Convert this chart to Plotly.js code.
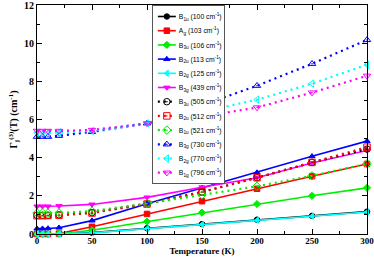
<!DOCTYPE html>
<html><head><meta charset="utf-8">
<script src="https://cdn.plot.ly/plotly-3.0.1.min.js"></script>
<style>html,body{margin:0;padding:0;background:#fff;}</style>
</head><body><div id="chart" style="width:374px;height:257px;"></div>
<script>
const temperature = [0, 5, 10, 20, 50, 100, 150, 200, 250, 300];
const modeNames = [
  'B<sub>1u</sub> (100 cm<sup>-1</sup>)',
  'A<sub>g</sub> (103 cm<sup>-1</sup>)',
  'B<sub>3u</sub> (106 cm<sup>-1</sup>)',
  'B<sub>2u</sub> (113 cm<sup>-1</sup>)',
  'B<sub>2g</sub> (125 cm<sup>-1</sup>)',
  'B<sub>3g</sub> (439 cm<sup>-1</sup>)',
  'B<sub>3u</sub> (505 cm<sup>-1</sup>)',
  'B<sub>2u</sub> (512 cm<sup>-1</sup>)',
  'B<sub>1u</sub> (521 cm<sup>-1</sup>)',
  'B<sub>3g</sub> (730 cm<sup>-1</sup>)',
  'B<sub>2g</sub> (770 cm<sup>-1</sup>)',
  'B<sub>1g</sub> (796 cm<sup>-1</sup>)'
];
const gB1u100 = [0, 0, 0, 0.005, 0.07, 0.3, 0.52, 0.75, 0.95, 1.17];
const gAg103  = [0, 0, 0, 0.02, 0.38, 1.05, 1.72, 2.37, 3.03, 3.67];
const gB3u106 = [0, 0, 0, 0.01, 0.2, 0.65, 1.12, 1.57, 2.0, 2.42];
const gB2u113 = [0.28, 0.28, 0.29, 0.33, 0.7, 1.58, 2.42, 3.22, 4.07, 4.87];
const gB2g125 = [0, 0, 0, 0.005, 0.06, 0.28, 0.5, 0.72, 0.93, 1.15];
const gB3g439 = [1.45, 1.45, 1.45, 1.47, 1.55, 1.92, 2.45, 2.95, 3.72, 4.38];
const gB3u505 = [0.98, 0.98, 0.98, 1.0, 1.12, 1.58, 2.2, 2.95, 3.75, 4.45];
const gB2u512 = [0.96, 0.96, 0.97, 0.98, 1.1, 1.57, 2.2, 2.95, 3.75, 4.55];
const gB1u521 = [1.1, 1.1, 1.1, 1.1, 1.2, 1.6, 2.05, 2.5, 3.05, 3.68];
const gB3g730 = [5.1, 5.1, 5.1, 5.15, 5.35, 5.8, 6.75, 7.77, 8.92, 10.17];
const gB2g770 = [5.3, 5.3, 5.3, 5.32, 5.4, 5.8, 6.4, 7.04, 7.88, 8.87];
const gB1g796 = [5.4, 5.4, 5.4, 5.4, 5.45, 5.8, 6.15, 6.63, 7.41, 8.29];

const seriesValues = [gB1u100, gAg103, gB3u106, gB2u113, gB2g125, gB3g439,
                      gB3u505, gB2u512, gB1u521, gB3g730, gB2g770, gB1g796];
const colors = ['#000000', '#ff0000', '#00ee00', '#0000ff', '#00ffff', '#ff00ff',
                '#000000', '#ff0000', '#00ee00', '#0000ff', '#00ffff', '#ff00ff'];
const symbols = ['circle', 'square', 'diamond', 'triangle-up', 'triangle-left', 'triangle-down',
                 'circle-open-dot', 'square-open-dot', 'diamond-open-dot', 'triangle-up-open-dot',
                 'triangle-left-open-dot', 'triangle-down-open-dot'];

const traces = seriesValues.map((ys, i) => {
  const dotted = i >= 6;
  const c = colors[i];
  return {
    x: temperature, y: ys, name: modeNames[i], type: 'scatter', mode: 'lines+markers',
    cliponaxis: false,
    line: {color: c, width: dotted ? 2.2 : 1.6, dash: dotted ? '2px,4px' : 'solid'},
    marker: {symbol: symbols[i], size: dotted ? 6.5 : 5.5, color: c,
             line: {color: (i === 6 ? '#555555' : c), width: 1}}
  };
});

const serif = 'Liberation Serif, Times New Roman, serif';
const layout = {
  width: 374, height: 257,
  margin: {l: 37, r: 7, t: 5, b: 23},
  paper_bgcolor: '#fff', plot_bgcolor: '#fff',
  showlegend: true,
  legend: {
    x: 0.348, y: 1.0, xanchor: 'left', yanchor: 'top',
    bgcolor: '#fff', bordercolor: '#555', borderwidth: 1,
    font: {family: 'Liberation Sans, Arial, sans-serif', size: 6.8, color: '#000'},
    itemwidth: 30, tracegroupgap: 0
  },
  xaxis: {
    range: [0, 300], dtick: 50, tick0: 0, showgrid: false, zeroline: false,
    showline: true, linecolor: '#000', linewidth: 1, mirror: 'allticks',
    ticks: 'inside', ticklen: 5, tickcolor: '#000', tickwidth: 1,
    minor: {dtick: 25, ticks: 'inside', ticklen: 3, tickcolor: '#000', tickwidth: 1},
    ticklabeloverflow: 'allow', ticklabelstandoff: -2,
    tickfont: {family: serif, size: 9, color: '#000', weight: 'bold'},
    title: {text: 'Temperature (K)', standoff: 0,
            font: {family: serif, size: 9, color: '#000', weight: 'bold'}}
  },
  yaxis: {
    range: [0, 12], dtick: 2, tick0: 0, showgrid: false, zeroline: false,
    showline: true, linecolor: '#000', linewidth: 1, mirror: 'allticks',
    ticks: 'inside', ticklen: 5, tickcolor: '#000', tickwidth: 1,
    minor: {dtick: 1, ticks: 'inside', ticklen: 3, tickcolor: '#000', tickwidth: 1},
    ticklabeloverflow: 'allow',
    tickfont: {family: serif, size: 10, color: '#000', weight: 'bold'},
    title: {text: 'Γ<sub>j</sub><sup>(3)</sup>(T) (cm<sup>-1</sup>)', standoff: 4,
            font: {family: serif, size: 10, color: '#000', weight: 'bold'}}
  }
};

Plotly.newPlot('chart', traces, layout, {staticPlot: true, displayModeBar: false}).then(gd => {
  // compact the legend rows/columns to match the reference spacing
  const leg = gd.querySelector('.legend');
  if (!leg) return;
  const items = leg.querySelectorAll('.traces');
  const step = 14.2, y0 = 11.5;
  items.forEach((it, i) => {
    const m = /translate\(([-\d.]+)[ ,]+([-\d.]+)\)/.exec(it.getAttribute('transform') || '');
    const x = m ? parseFloat(m[1]) : 0;
    it.setAttribute('transform', 'translate(' + x + ',' + (y0 + i * step) + ')');
    it.querySelectorAll('.legendlines path').forEach(p => p.setAttribute('d', 'M5,0h18'));
    it.querySelectorAll('.legendpoints path').forEach(p => {
      const t = p.getAttribute('transform');
      if (t) p.setAttribute('transform', t.replace(/translate\(\s*20\s*[, ]/, 'translate(14,'));
    });
    const txt = it.querySelector('text.legendtext');
    if (txt) txt.setAttribute('x', 26);
  });
  const bg = leg.querySelector('rect.bg');
  const h = y0 + (items.length - 1) * step + 10;
  if (bg) { bg.setAttribute('height', h); bg.setAttribute('width', 72); }
  leg.querySelectorAll('[clip-path]').forEach(el => el.removeAttribute('clip-path'));
  const sb = leg.querySelector('.scrollbar');
  if (sb) sb.remove();
});
</script>
</body></html>
